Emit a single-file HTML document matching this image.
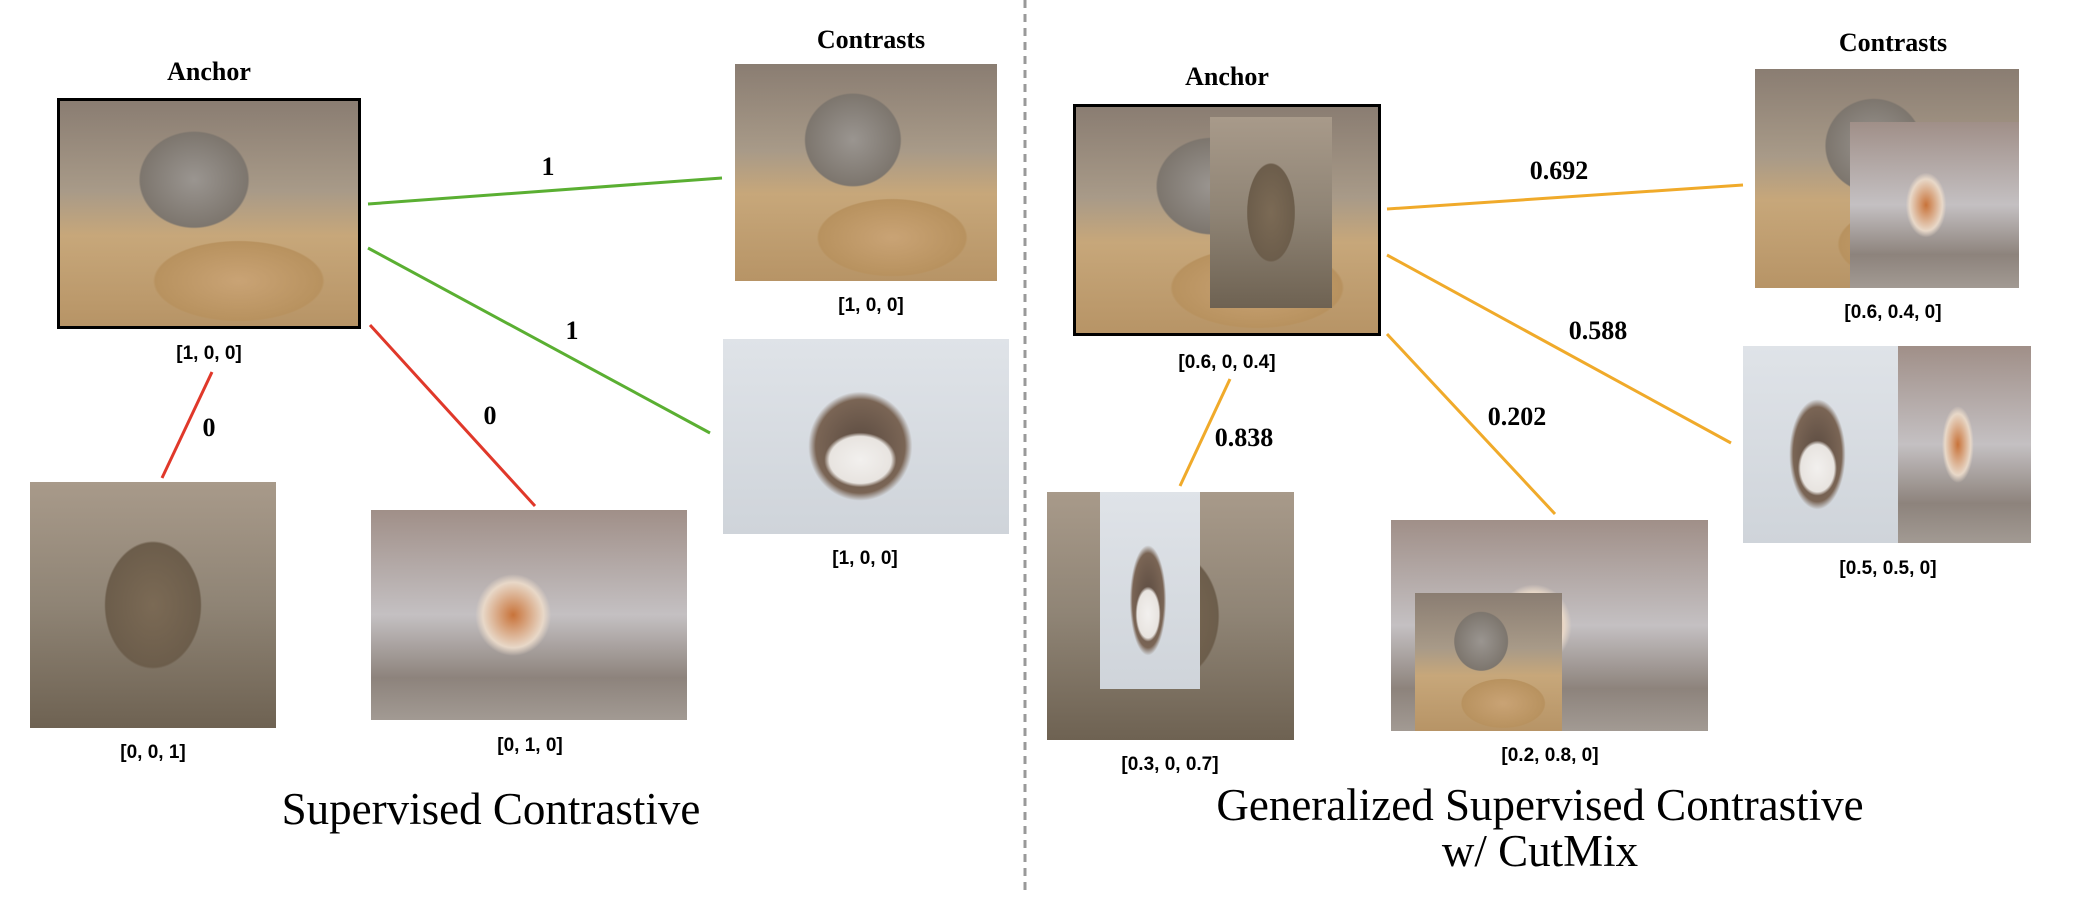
<!DOCTYPE html>
<html><head><meta charset="utf-8"><style>
body{margin:0;width:2083px;height:903px;background:#fff;position:relative;overflow:hidden;font-family:"Liberation Serif",serif}
.a{position:absolute}
.cat{background:radial-gradient(ellipse 30% 35% at 45% 35%,#9a9590 0%,#7d766e 60%,transparent 62%),radial-gradient(ellipse 40% 25% at 60% 80%,#c9a375 0%,#b8925f 70%,transparent 72%),linear-gradient(180deg,#8a7d72 0%,#a89a88 40%,#c7a77a 60%,#b79466 100%)}
.quok{background:radial-gradient(ellipse 32% 42% at 50% 50%,#7b6a55 0%,#6c5d4b 60%,transparent 62%),linear-gradient(180deg,#a89a8a 0%,#8f8475 50%,#6e6252 100%)}
.pom{background:radial-gradient(ellipse 16% 26% at 45% 50%,#c8733a 0%,#e8d8c8 60%,transparent 75%),linear-gradient(180deg,#a08f88 0%,#c4c0c2 50%,#8d837c 80%,#a29a93 100%)}
.grum{background:radial-gradient(ellipse 18% 20% at 48% 62%,#f2f0ee 0%,#e8e4e0 60%,transparent 70%),radial-gradient(ellipse 26% 40% at 48% 55%,#5a4a40 0%,#7a6555 60%,transparent 70%),linear-gradient(180deg,#dfe3e8,#cfd4da)}
.lbl{position:absolute;font-family:"Liberation Sans",sans-serif;font-weight:bold;font-size:19px;transform:translateX(-50%);white-space:nowrap;line-height:1}
.num{position:absolute;font-weight:bold;font-size:26px;transform:translateX(-50%);line-height:1}
.ttl{position:absolute;font-weight:bold;font-size:26px;transform:translateX(-50%);line-height:1}
.big{position:absolute;font-size:45px;transform:translateX(-50%);white-space:nowrap;line-height:1;text-align:center}
</style></head><body>
<svg class="a" style="left:0;top:0" width="2083" height="903">
<line x1="1025" y1="0" x2="1025" y2="890" stroke="#999" stroke-width="3" stroke-dasharray="8,6"/>
<g stroke-width="3">
<line x1="368" y1="204" x2="722" y2="178" stroke="#5aaf32"/>
<line x1="368" y1="248" x2="710" y2="433" stroke="#5aaf32"/>
<line x1="370" y1="325" x2="535" y2="506" stroke="#e0382a"/>
<line x1="212" y1="372" x2="162" y2="478" stroke="#e0382a"/>
<line x1="1387" y1="209" x2="1743" y2="185" stroke="#f0aa2a"/>
<line x1="1387" y1="255" x2="1731" y2="443" stroke="#f0aa2a"/>
<line x1="1387" y1="334" x2="1555" y2="514" stroke="#f0aa2a"/>
<line x1="1230" y1="379" x2="1180" y2="486" stroke="#f0aa2a"/>
</g></svg>

<!-- left -->
<div class="ttl" style="left:209px;top:59px">Anchor</div>
<div class="a cat" style="left:57px;top:98px;width:298px;height:225px;border:3px solid #000"></div>
<div class="lbl" style="left:209px;top:344px">[1, 0, 0]</div>
<div class="ttl" style="left:871px;top:27px">Contrasts</div>
<div class="a cat" style="left:735px;top:64px;width:262px;height:217px"></div>
<div class="lbl" style="left:871px;top:296px">[1, 0, 0]</div>
<div class="a grum" style="left:723px;top:339px;width:286px;height:195px"></div>
<div class="lbl" style="left:865px;top:549px">[1, 0, 0]</div>
<div class="a quok" style="left:30px;top:482px;width:246px;height:246px"></div>
<div class="lbl" style="left:153px;top:743px">[0, 0, 1]</div>
<div class="a pom" style="left:371px;top:510px;width:316px;height:210px"></div>
<div class="lbl" style="left:530px;top:736px">[0, 1, 0]</div>
<div class="num" style="left:548px;top:154px">1</div>
<div class="num" style="left:572px;top:318px">1</div>
<div class="num" style="left:490px;top:403px">0</div>
<div class="num" style="left:209px;top:415px">0</div>
<div class="big" style="left:491px;top:787px">Supervised Contrastive</div>

<!-- right -->
<div class="ttl" style="left:1227px;top:64px">Anchor</div>
<div class="a cat" style="left:1073px;top:104px;width:302px;height:226px;border:3px solid #000"></div>
<div class="a quok" style="left:1210px;top:117px;width:122px;height:191px"></div>
<div class="lbl" style="left:1227px;top:353px">[0.6, 0, 0.4]</div>
<div class="ttl" style="left:1893px;top:30px">Contrasts</div>
<div class="a cat" style="left:1755px;top:69px;width:264px;height:219px"></div>
<div class="a pom" style="left:1850px;top:122px;width:169px;height:166px"></div>
<div class="lbl" style="left:1893px;top:303px">[0.6, 0.4, 0]</div>
<div class="a grum" style="left:1743px;top:346px;width:155px;height:197px"></div>
<div class="a pom" style="left:1898px;top:346px;width:133px;height:197px"></div>
<div class="lbl" style="left:1888px;top:559px">[0.5, 0.5, 0]</div>
<div class="a quok" style="left:1047px;top:492px;width:247px;height:248px"></div>
<div class="a grum" style="left:1100px;top:492px;width:100px;height:197px"></div>
<div class="lbl" style="left:1170px;top:755px">[0.3, 0, 0.7]</div>
<div class="a pom" style="left:1391px;top:520px;width:317px;height:211px"></div>
<div class="a cat" style="left:1415px;top:593px;width:147px;height:138px"></div>
<div class="lbl" style="left:1550px;top:746px">[0.2, 0.8, 0]</div>
<div class="num" style="left:1559px;top:158px">0.692</div>
<div class="num" style="left:1598px;top:318px">0.588</div>
<div class="num" style="left:1517px;top:404px">0.202</div>
<div class="num" style="left:1244px;top:425px">0.838</div>
<div class="big" style="left:1540px;top:783px">Generalized Supervised Contrastive</div>
<div class="big" style="left:1540px;top:829px">w/ CutMix</div>
</body></html>
